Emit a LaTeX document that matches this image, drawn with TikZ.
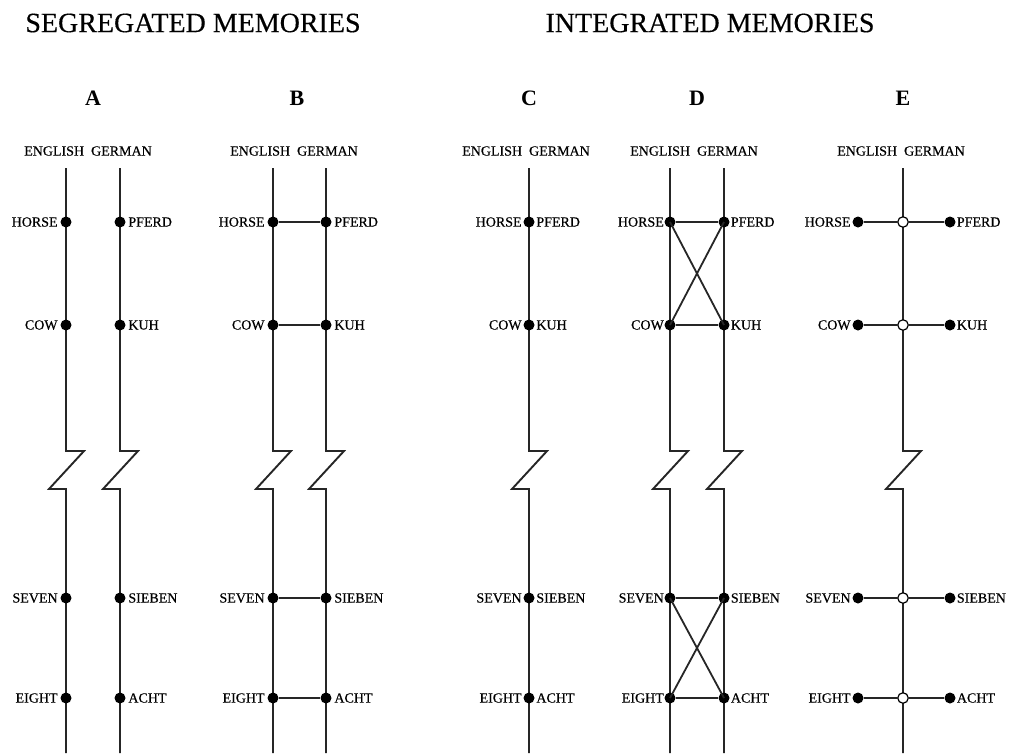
\documentclass[tikz,border=0pt]{standalone}
\usepackage{fontspec}
\setmainfont{Liberation Serif}
\newfontfamily\hvfont{Liberation Serif}[FakeBold=0.5]
\newfontfamily\ltfont{Liberation Serif}[FakeBold=0.4]
\begin{document}
\begin{tikzpicture}[x=1pt,y=-1pt,
  vline/.style={line width=1.9pt, black!85},
  link/.style={line width=1.6pt, black!85},
  cross/.style={line width=1.8pt, black!85},
  dot/.style={circle, fill=black, inner sep=0pt, minimum size=11pt},
  odot/.style={circle, draw=black, fill=white, line width=1.2pt, inner sep=0pt, minimum size=10.5pt},
  lab/.style={font=\hvfont\fontsize{14}{14}\selectfont, inner sep=2.5pt},
  ttl/.style={font=\ltfont\fontsize{28}{28}\selectfont},
  letter/.style={font=\bfseries\fontsize{22}{22}\selectfont}]
\useasboundingbox (0,0) rectangle (1011,753);

% titles
\node[ttl] (t1) at (193,23) {SEGREGATED MEMORIES};
\node[ttl] (t2) at (710,23) {INTEGRATED MEMORIES};
% panel letters
\node[letter] (LA) at (93,98) {A};
\node[letter] (LB) at (297,98) {B};
\node[letter] (LC) at (529,98) {C};
\node[letter] (LD) at (697,98) {D};
\node[letter] (LE) at (903,98) {E};
% headers
\foreach \x/\n in {88/A,294/B,526/C,694/D,901/E}
  \node[lab] (H\n) at (\x,151) {ENGLISH\ \ GERMAN};

% vertical lines with break
\foreach \x/\n in {66/a1,120/a2,273/b1,326/b2,529/c1,670/d1,724/d2,903/e1} {
  \coordinate (\n top) at (\x,168);
  \coordinate (\n bot) at (\x,753);
  \draw[vline] (\n top) -- (\x,451) -- (\x+18,451) -- (\x-17,489) -- (\x,489) -- (\n bot);
}

\foreach \y/\en/\de/\k in {222/HORSE/PFERD/1, 325/COW/KUH/2, 598/SEVEN/SIEBEN/3, 698/EIGHT/ACHT/4} {
  % A
  \node[dot] (a\k e) at (66,\y) {};
  \node[dot] (a\k g) at (120,\y) {};
  \node[lab,anchor=east] (a\k el) at (a\k e.west) {\en};
  \node[lab,anchor=west] (a\k gl) at (a\k g.east) {\de};
  % B
  \node[dot] (b\k e) at (273,\y) {};
  \node[dot] (b\k g) at (326,\y) {};
  \node[lab,anchor=east] (b\k el) at (b\k e.west) {\en};
  \node[lab,anchor=west] (b\k gl) at (b\k g.east) {\de};
  \draw[link] (b\k e) -- (b\k g);
  % C
  \node[dot] (c\k) at (529,\y) {};
  \node[lab,anchor=east,inner sep=1.5pt] (c\k el) at (c\k.west) {\en};
  \node[lab,anchor=west,inner sep=1.5pt] (c\k gl) at (c\k.east) {\de};
  % D
  \node[dot] (d\k e) at (670,\y) {};
  \node[dot] (d\k g) at (724,\y) {};
  \node[lab,anchor=east,inner sep=0.3pt] (d\k el) at (d\k e.west) {\en};
  \node[lab,anchor=west,inner sep=1pt] (d\k gl) at (d\k g.east) {\de};
  \draw[link] (d\k e) -- (d\k g);
  % E
  \node[dot] (e\k l) at (858,\y) {};
  \node[odot] (e\k c) at (903,\y) {};
  \node[dot] (e\k r) at (950,\y) {};
  \node[lab,anchor=east,inner sep=1.5pt] (e\k el) at (e\k l.west) {\en};
  \node[lab,anchor=west,inner sep=1pt] (e\k gl) at (e\k r.east) {\de};
  \draw[link] (e\k l) -- (e\k c);
  \draw[link] (e\k c) -- (e\k r);
}
% crosses in D
\draw[cross] (d1e.center) -- (d2g.center);
\draw[cross] (d2e.center) -- (d1g.center);
\draw[cross] (d3e.center) -- (d4g.center);
\draw[cross] (d4e.center) -- (d3g.center);
\end{tikzpicture}
\end{document}
